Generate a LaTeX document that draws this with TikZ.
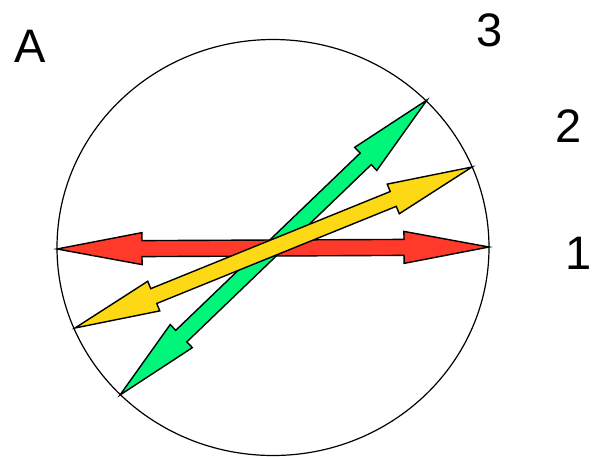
\documentclass[tikz,border=0pt]{standalone}
\usepackage{fontspec}
\setmainfont{Liberation Sans}
\usetikzlibrary{calc,shapes.geometric}
\definecolor{arrred}{RGB}{255,58,42}
\definecolor{arrgreen}{RGB}{0,246,122}
\definecolor{arryellow}{RGB}{252,216,21}
\tikzset{
  lbl/.style={font=\fontsize{47}{47}\selectfont, inner sep=0pt},
  arrbody/.style={draw=black, line width=1.4pt, line join=miter, miter limit=20},
}
% #1 name prefix, #2 end a, #3 end b, #4 colour
\newcommand\dblarrow[4]{%
  \coordinate (#1ha) at ($(#2)!85pt!(#3)$);
  \coordinate (#1hb) at ($(#3)!85pt!(#2)$);
  \draw[arrbody, fill=#4]
    (#2) -- ($(#1ha)!16pt!90:(#3)$) -- ($(#1ha)!8pt!90:(#3)$)
    -- ($(#1hb)!8pt!-90:(#2)$) -- ($(#1hb)!16pt!-90:(#2)$)
    -- (#3) -- ($(#1hb)!16pt!90:(#2)$) -- ($(#1hb)!8pt!90:(#2)$)
    -- ($(#1ha)!8pt!-90:(#3)$) -- ($(#1ha)!16pt!-90:(#3)$) -- cycle;
}
\begin{document}
\begin{tikzpicture}[x=1pt,y=-1pt]
  \useasboundingbox (0,0) rectangle (592,456);
  \node[draw=black, line width=1.2pt, ellipse, minimum width=432pt, minimum height=416pt, inner sep=0pt] (circ) at (273,247.5) {};
  \coordinate (r1) at (57,249);
  \coordinate (r2) at (489,247);
  \coordinate (g1) at (427,100);
  \coordinate (g2) at (120,395);
  \coordinate (y1) at (472,167);
  \coordinate (y2) at (75,328);
  \dblarrow{red}{r1}{r2}{arrred}
  \dblarrow{grn}{g1}{g2}{arrgreen}
  \dblarrow{yel}{y1}{y2}{arryellow}
  \node[lbl] (la) at (30,46) {A};
  \node[lbl] (l3) at (490,30) {3};
  \node[lbl] (l2) at (569,126) {2};
  \node[lbl] (l1) at (579,253) {1};
\end{tikzpicture}
\end{document}
